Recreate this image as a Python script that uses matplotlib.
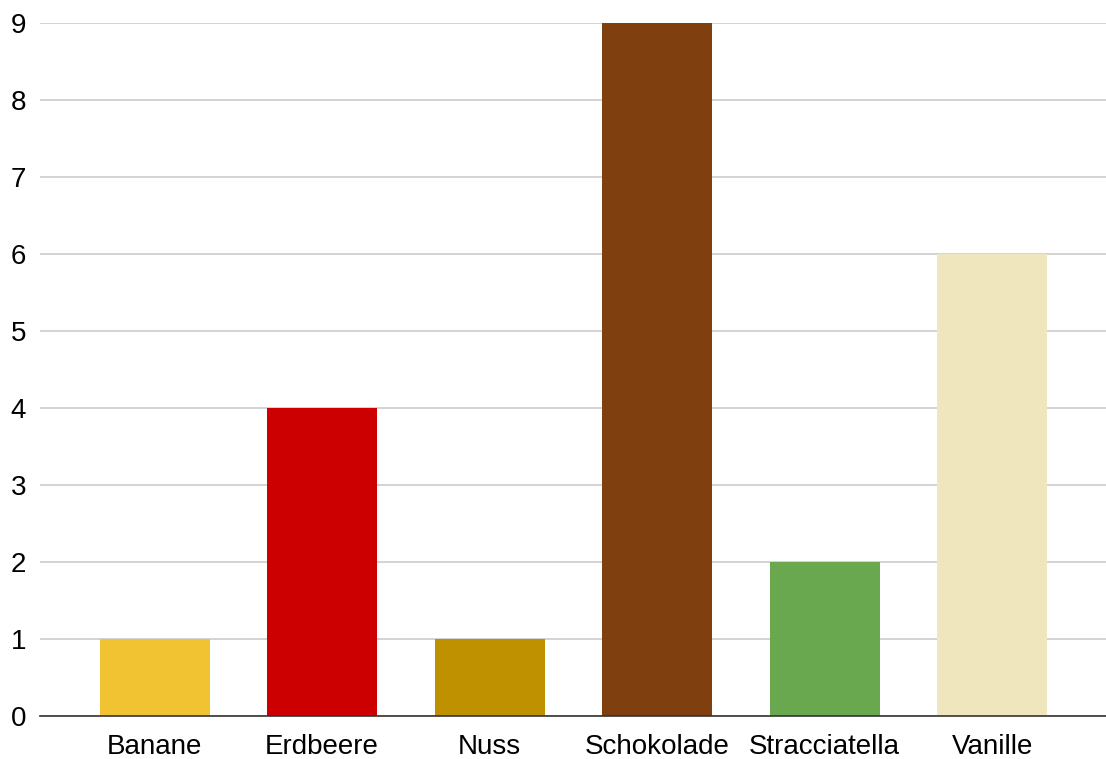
import matplotlib.pyplot as plt

plt.rcParams['font.family'] = ['Liberation Sans', 'DejaVu Sans']

flavours = ["Banane", "Erdbeere", "Nuss", "Schokolade", "Stracciatella", "Vanille"]
counts = [1, 4, 1, 9, 2, 6]
colours = ["#F1C232", "#CC0000", "#BF9000", "#7F3F0F", "#6AA84F", "#F0E6BE"]
yticks = list(range(0, 10))


def main():
    fig = plt.figure(figsize=(11.06, 7.59), dpi=100)
    ax = fig.add_axes([40 / 1106, 43 / 759, 1 - 40 / 1106, (716 - 23) / 759])

    x = range(len(flavours))
    ax.bar(x, counts, width=0.657, color=colours, zorder=3)

    ax.set_xlim(-0.684, 5.68)
    ax.set_ylim(0, 9)
    ax.set_yticks(yticks)
    ax.set_xticks(list(x))
    ax.set_xticklabels(flavours)

    ax.grid(axis="y", color="#CCCCCC", linewidth=1.2, zorder=0)
    for side in ["top", "right", "left"]:
        ax.spines[side].set_visible(False)
    ax.spines["bottom"].set_color("#333333")
    ax.spines["bottom"].set_linewidth(1.2)
    ax.spines["bottom"].set_zorder(4)

    ax.tick_params(axis="both", length=0, labelsize=20, colors="#000000")
    ax.tick_params(axis="y", pad=10)
    ax.tick_params(axis="x", pad=13)

    fig.savefig("out.png", dpi=100)


if __name__ == "__main__":
    main()
